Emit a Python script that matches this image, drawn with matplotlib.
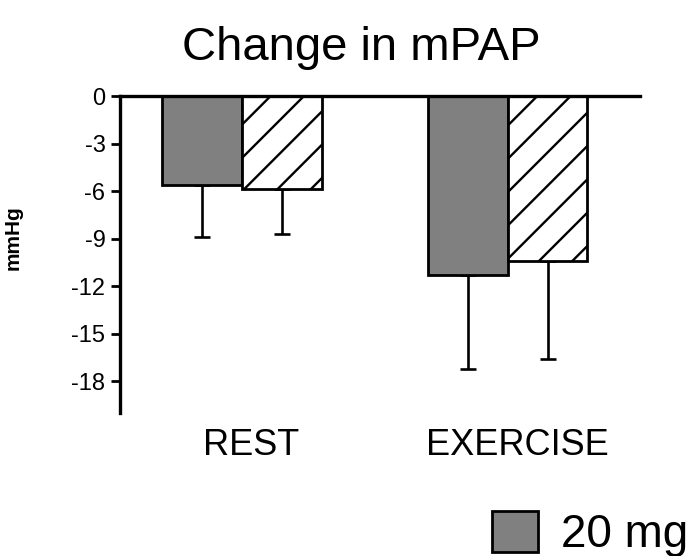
import matplotlib
matplotlib.use("Agg")
import matplotlib.pyplot as plt
from matplotlib.patches import Patch
import numpy as np

plt.rcParams["font.family"] = ["Liberation Sans", "DejaVu Sans"]
plt.rcParams["hatch.linewidth"] = 1.7

# mean change (mmHg) and downward SD for each condition
conditions = ["REST", "EXERCISE"]
dose_20mg = [-5.6, -11.3]
dose_20mg_err = [3.3, 5.9]
dose_other = [-5.85, -10.4]
dose_other_err = [2.85, 6.2]
yticks = [0, -3, -6, -9, -12, -15, -18]

fig = plt.figure(figsize=(6.95, 5.56), dpi=100)
ax = fig.add_axes([0.1727, 0.2572, 0.748, 0.5701])

x = np.arange(len(conditions))
w = 0.3
ax.bar(x - w / 2, dose_20mg, w, color="#808080", edgecolor="black",
       linewidth=2, zorder=2)
ax.bar(x + w / 2, dose_other, w, color="white", edgecolor="black",
       linewidth=2, hatch="/", zorder=2)

err_kw = dict(fmt="none", ecolor="black", elinewidth=1.9, capsize=6,
              capthick=1.9, zorder=1)
ax.errorbar(x - w / 2, dose_20mg, yerr=[dose_20mg_err, [0, 0]], **err_kw)
ax.errorbar(x + w / 2, dose_other, yerr=[dose_other_err, [0, 0]], **err_kw)

ax.set_ylim(-20, 0)
ax.set_xlim(-0.4575, 1.497)
ax.set_yticks(yticks)
ax.set_yticklabels([str(t) for t in yticks], fontsize=17)
ax.set_xticks(x + 0.035)
ax.set_xticklabels(conditions, fontsize=26)
ax.tick_params(axis="x", length=0, pad=11)
ax.tick_params(axis="y", length=6.5, width=2, pad=4)

for side in ("bottom", "right"):
    ax.spines[side].set_visible(False)
for side in ("top", "left"):
    ax.spines[side].set_linewidth(2.4)

ax.set_ylabel("mmHg", fontsize=15, fontweight="bold")
ax.yaxis.set_label_coords(-0.188, 0.552)
ax.set_title("Change in mPAP", fontsize=34, x=0.4635, y=1.152,
             va="center", pad=0)

fig.legend(handles=[Patch(facecolor="#808080", edgecolor="black",
                          linewidth=2)],
           labels=["20 mg"], loc="lower left",
           bbox_to_anchor=(491.7 / 695, -1.0 / 556), frameon=False,
           fontsize=33, handlelength=1.0, handleheight=1.0,
           handletextpad=0.52, borderpad=0, borderaxespad=0)

fig.savefig("out.png", dpi=100)
